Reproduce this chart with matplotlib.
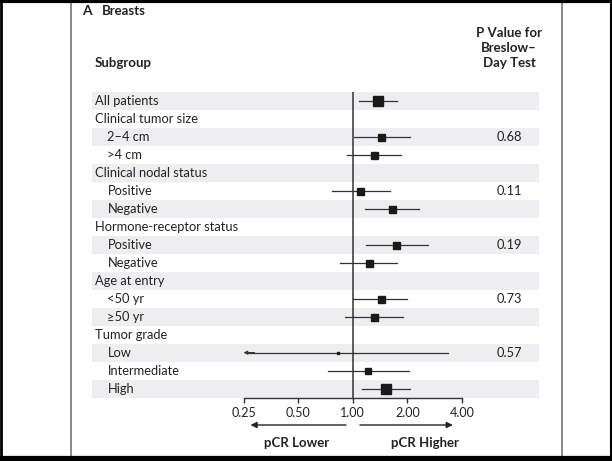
import matplotlib
matplotlib.use("Agg")
import matplotlib.pyplot as plt
from matplotlib.transforms import blended_transform_factory
from matplotlib.lines import Line2D
import numpy as np

plt.rcParams['font.family'] = ['Lato', 'DejaVu Sans']

# ---- data ----
labels = ["All patients", "Clinical tumor size", "2\u20134 cm", ">4 cm",
          "Clinical nodal status", "Positive", "Negative",
          "Hormone-receptor status", "Positive", "Negative",
          "Age at entry", "<50 yr", "\u226550 yr",
          "Tumor grade", "Low", "Intermediate", "High"]
is_header = [False, True, False, False, True, False, False, True, False, False,
             True, False, False, True, False, False, False]
odds = [1.37, None, 1.44, 1.31, None, 1.10, 1.65, None, 1.74, 1.23,
        None, 1.43, 1.31, None, 0.83, 1.22, 1.52]
ci_low = [1.08, None, 1.01, 0.93, None, 0.77, 1.17, None, 1.19, 0.85,
          None, 1.00, 0.91, None, 0.25, 0.73, 1.12]
ci_high = [1.76, None, 2.07, 1.84, None, 1.60, 2.32, None, 2.59, 1.76,
           None, 1.99, 1.89, None, 3.37, 2.03, 2.08]
pvalues = [None, None, "0.68", None, None, "0.11", None, None, "0.19", None,
           None, "0.73", None, None, "0.57", None, None]
xticks = [0.25, 0.5, 1.0, 2.0, 4.0]
xtick_labels = ["0.25", "0.50", "1.00", "2.00", "4.00"]

# styles (marker size in px)
box_px = [10.5, 0, 7, 7, 0, 7, 7, 0, 7, 7, 0, 7, 7, 0, 2.5, 5.5, 9.5]
arrow_left = [False] * 17
arrow_left[14] = True

W, H = 612, 461
fig = plt.figure(figsize=(W / 100, H / 100), dpi=100)

# axes geometry in px
ax_l, ax_r = 243.5, 462.0
ax_top, ax_bot = 92.5, 397.5
ax = fig.add_axes([ax_l / W, 1 - ax_bot / H, (ax_r - ax_l) / W, (ax_bot - ax_top) / H])
ax.set_xscale('log', base=2)
ax.set_xlim(0.25, 4.0)
n = len(labels)
ax.set_ylim(n - 0.5, -0.5)
ax.patch.set_alpha(0)

for s in ['top', 'right', 'left']:
    ax.spines[s].set_visible(False)
ax.spines['bottom'].set_color('#333333')
ax.spines['bottom'].set_linewidth(1.0)
ax.set_yticks([])
ax.set_xticks(xticks)
ax.set_xticklabels(xtick_labels)
ax.xaxis.set_minor_locator(matplotlib.ticker.NullLocator())
ax.tick_params(axis='x', direction='out', length=3.5, width=1.0, color='#333333',
               pad=3, labelsize=9, labelcolor='#222222')

# bands
band_l = (92 - ax_l) / (ax_r - ax_l)
band_r = (539 - ax_l) / (ax_r - ax_l)
for i in range(n):
    if i % 2 == 0:
        ax.axhspan(i - 0.5, i + 0.5, xmin=band_l, xmax=band_r, color='#eeeef1',
                   lw=0, zorder=0, clip_on=False)

# reference line
ax.axvline(1.0, color='#333333', lw=1.1, zorder=2)

# CIs and boxes
for i in range(n):
    if odds[i] is None:
        continue
    if arrow_left[i]:
        ax.plot([ci_low[i] * 1.04, ci_high[i]], [i, i], color='#333333', lw=0.9, zorder=3)
        ax.annotate('', xy=(ci_low[i], i), xytext=(ci_low[i] * 1.15, i),
                    arrowprops=dict(arrowstyle='-|>', color='#333333', lw=0.9,
                                    mutation_scale=5, shrinkA=0, shrinkB=0),
                    zorder=3)
    else:
        ax.plot([ci_low[i], ci_high[i]], [i, i], color='#333333', lw=0.9, zorder=3)
    ax.plot([odds[i]], [i], marker='s', ms=box_px[i] * 0.72, color='#1a1a1a',
            mec='#1a1a1a', zorder=4, ls='none')

# labels
tlab = blended_transform_factory(fig.transFigure, ax.transData)
for i, lab in enumerate(labels):
    x = 95 if is_header[i] or i == 0 else 107.5
    ax.text(x / W, i, lab, transform=tlab, ha='left', va='center', fontsize=9.3,
            color='#222222')
    if pvalues[i]:
        ax.text(509 / W, i, pvalues[i], transform=tlab, ha='center', va='center',
                fontsize=9.3, color='#222222')

# headers
fig.text(82 / W, 1 - 11 / H, "A", fontsize=10, fontweight='bold', ha='left', va='center', color='#222222')
fig.text(102 / W, 1 - 11 / H, "Breasts", fontsize=9.5, fontweight='bold', ha='left', va='center', color='#222222')
fig.text(95 / W, 1 - 63 / H, "Subgroup", fontsize=9.5, fontweight='bold', ha='left', va='center', color='#222222')
for txt, yy in [("P Value for", 33), ("Breslow\u2013", 48), ("Day Test", 63)]:
    fig.text(509 / W, 1 - yy / H, txt, fontsize=9.5, fontweight='bold', ha='center', va='center', color='#222222')

# direction arrows
yarr = (397.5 - 425) / (ax_bot - ax_top)
ax.annotate('', xy=(0.032, yarr), xytext=(0.469, yarr), xycoords='axes fraction',
            arrowprops=dict(arrowstyle='-|>', color='#222222', lw=1.0, mutation_scale=9,
                            shrinkA=0, shrinkB=0))
ax.annotate('', xy=(0.958, yarr), xytext=(0.533, yarr), xycoords='axes fraction',
            arrowprops=dict(arrowstyle='-|>', color='#222222', lw=1.0, mutation_scale=9,
                            shrinkA=0, shrinkB=0))
ylab = (397.5 - 443) / (ax_bot - ax_top)
ax.text(0.245, ylab, "pCR Lower", transform=ax.transAxes, ha='center', va='center',
        fontsize=9.5, fontweight='bold', color='#222222')
ax.text(0.831, ylab, "pCR Higher", transform=ax.transAxes, ha='center', va='center',
        fontsize=9.5, fontweight='bold', color='#222222')

# frame lines
def fline(x0, y0, x1, y1, color, lw):
    fig.add_artist(Line2D([x0 / W, x1 / W], [1 - y0 / H, 1 - y1 / H],
                          transform=fig.transFigure, color=color, lw=lw))

fline(71, 0, 71, H, '#808080', 1.3)
fline(562, 0, 562, H, '#808080', 1.3)
fline(0, 1.5, W, 1.5, '#000000', 3.0)
fline(0, 458.5, W, 458.5, '#000000', 4.5)
fline(1, 0, 1, H, '#000000', 2.0)
fline(611, 0, 611, H, '#000000', 1.5)

fig.savefig("out.png", dpi=100)
